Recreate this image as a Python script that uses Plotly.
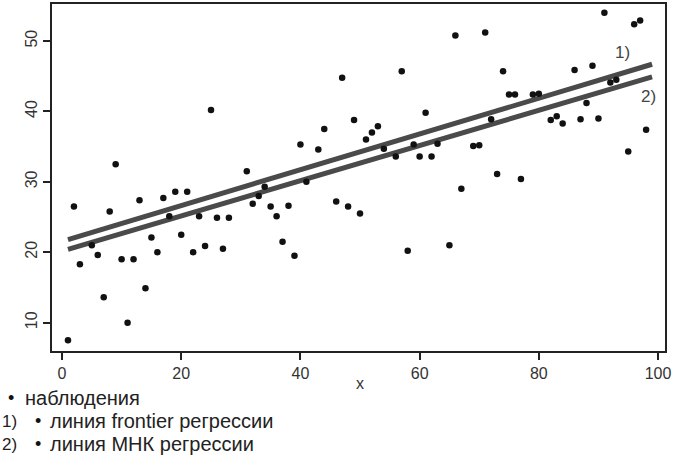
import plotly.graph_objects as go

# observations
x_obs = [1, 2, 3, 5, 6, 7, 8, 9, 10, 11, 12, 13, 14, 15, 16, 17, 18, 19, 20, 21,
         22, 23, 24, 25, 26, 27, 28, 31, 32, 33, 34, 35, 36, 37, 38, 39, 40, 41,
         43, 44, 46, 47, 48, 49, 50, 51, 52, 53, 54, 56, 57, 58, 59, 60, 61, 62,
         63, 65, 66, 67, 69, 70, 71, 72, 73, 74, 75, 76, 77, 79, 80, 82, 83, 84,
         86, 87, 88, 89, 90, 91, 92, 93, 95, 96, 97, 98]
y_obs = [7.5, 26.5, 18.3, 21.0, 19.6, 13.6, 25.8, 32.5, 19.0, 10.0, 19.0, 27.4,
         14.9, 22.1, 20.0, 27.7, 25.1, 28.6, 22.5, 28.6, 20.0, 25.1, 20.9, 40.2,
         24.9, 20.5, 24.9, 31.5, 26.9, 28.0, 29.3, 26.5, 25.1, 21.5, 26.6, 19.5,
         35.3, 30.0, 34.6, 37.5, 27.2, 44.8, 26.5, 38.8, 25.5, 36.0, 37.0, 37.9,
         34.7, 33.6, 45.7, 20.2, 35.3, 33.6, 39.8, 33.6, 35.4, 21.0, 50.8, 29.0,
         35.1, 35.2, 51.2, 38.9, 31.1, 45.7, 42.4, 42.4, 30.4, 42.4, 42.5, 38.8,
         39.3, 38.3, 45.9, 38.9, 41.2, 46.5, 39.0, 54.0, 44.1, 44.5, 34.3, 52.4,
         52.9, 37.4]

# regression lines (end points)
line_x = [1, 99]
frontier_y = [21.8, 46.7]
ols_y = [20.4, 44.9]

x_ticks = [0, 20, 40, 60, 80, 100]
y_ticks = [10, 20, 30, 40, 50]

legend_labels = ["наблюдения", "линия frontier регрессии", "линия МНК регрессии"]
legend_prefix = ["", "1)", "2)"]
line_labels = ["1)", "2)"]

FONT = "Liberation Sans, Arial, sans-serif"
LINE_COL = "#4a4a4a"

fig = go.Figure()
fig.add_trace(go.Scatter(x=line_x, y=frontier_y, mode="lines",
                         line=dict(color=LINE_COL, width=5), showlegend=False))
fig.add_trace(go.Scatter(x=line_x, y=ols_y, mode="lines",
                         line=dict(color=LINE_COL, width=5), showlegend=False))
fig.add_trace(go.Scatter(x=x_obs, y=y_obs, mode="markers",
                         marker=dict(color="#111", size=6.5), showlegend=False))

# labels next to lines
fig.add_annotation(x=94, y=48.4, text=line_labels[0], showarrow=False,
                   font=dict(family=FONT, size=17, color="#444"))
fig.add_annotation(x=98.4, y=42.1, text=line_labels[1], showarrow=False,
                   font=dict(family=FONT, size=17, color="#444"))


def py(p):
    return (351 - p) / 347


def px(p):
    return (p - 52) / 613


# x axis label
fig.add_annotation(xref="paper", yref="paper", x=px(360), y=py(383), yanchor="middle",
                   text="x", showarrow=False,
                   font=dict(family=FONT, size=16, color="#333"))

# legend block
rows_y = [398, 421, 444]
bullet_x = [11, 38, 38]
text_x = [23, 48, 48]
LFONT = dict(family=FONT, size=20, color="#222")
for i in range(3):
    if legend_prefix[i]:
        fig.add_annotation(xref="paper", yref="paper", x=px(0), y=py(rows_y[i]),
                           xanchor="left", yanchor="middle", text=legend_prefix[i],
                           showarrow=False, font=dict(family=FONT, size=17, color="#222"))
    fig.add_annotation(xref="paper", yref="paper", x=px(bullet_x[i]), y=py(rows_y[i]),
                       xanchor="center", yanchor="middle", text="•",
                       showarrow=False, font=dict(family=FONT, size=18, color="#111"))
    fig.add_annotation(xref="paper", yref="paper", x=px(text_x[i]), y=py(rows_y[i]),
                       xanchor="left", yanchor="middle", text=legend_labels[i],
                       showarrow=False, font=LFONT)

fig.update_layout(
    width=673, height=459,
    margin=dict(l=52, r=8, t=4, b=108, autoexpand=False),
    paper_bgcolor="white", plot_bgcolor="white",
    font=dict(family=FONT, size=16, color="#333"),
    xaxis=dict(range=[-1.68, 101.17], tickvals=x_ticks, ticks="outside", ticklen=7,
               tickwidth=1.5, tickcolor="#222", showline=True, linecolor="#222",
               linewidth=2, mirror=True, showgrid=False, zeroline=False,
               automargin=False, tickfont=dict(size=16, color="#333")),
    yaxis=dict(range=[5.97, 55.26], tickvals=y_ticks, ticks="outside", ticklen=7,
               tickwidth=1.5, tickcolor="#222", showline=True, linecolor="#222",
               linewidth=2, mirror=True, showgrid=False, zeroline=False,
               automargin=False, tickangle=-90, tickfont=dict(size=16, color="#333")),
)

fig.write_html("out.html", config={"displayModeBar": False},
               post_script="document.body.style.margin='0';")
